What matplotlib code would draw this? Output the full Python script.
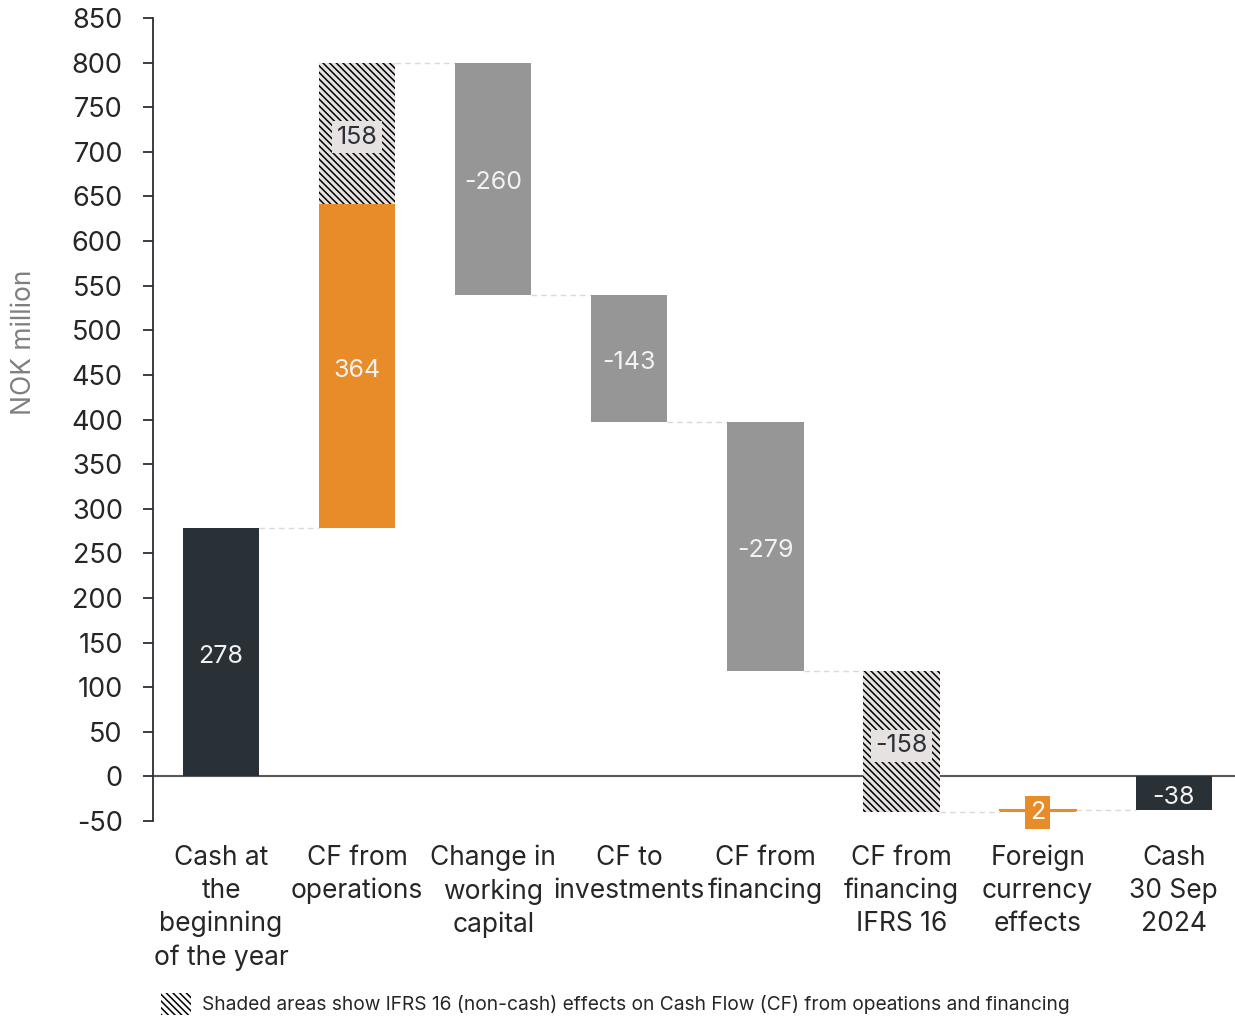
# Cash flow waterfall, NOK million

import matplotlib
matplotlib.use("Agg")
import matplotlib.pyplot as plt
import matplotlib.transforms as mtransforms
from matplotlib.patches import Rectangle

# Data
categories = ["Cash at\nthe\nbeginning\nof the year", "CF from\noperations",
              "Change in\nworking\ncapital", "CF to\ninvestments", "CF from\nfinancing",
              "CF from\nfinancing\nIFRS 16", "Foreign\ncurrency\neffects", "Cash\n30 Sep\n2024"]
cash_part = [278, 364, -260, -143, -279, 0, 2, -38]
ifrs16_part = [0, 158, 0, 0, 0, -158, 0, 0]
is_total = [True, False, False, False, False, False, False, True]
legend_text = "Shaded areas show IFRS 16 (non-cash) effects on Cash Flow (CF) from opeations and financing"

# Colours
dark = "#293036"
orange = "#E88B29"
grey = "#969696"
shade_bg = "#E7E2E2"

plt.rcParams['font.family'] = ['Inter', 'DejaVu Sans']
plt.rcParams['hatch.linewidth'] = 1.1
plt.rcParams['axes.unicode_minus'] = False

fig = plt.figure(figsize=(12.35, 10.16), dpi=100)
ax = fig.add_axes([153 / 1235, 1 - 821 / 1016, 1 - 153 / 1235, (821 - 18) / 1016])
# labels sit a little below the bar centre
lab_tr = mtransforms.offset_copy(ax.transData, fig=fig, y=-3, units="points")

width = 0.56
running = 0
prev_end = None
for i, (c, s) in enumerate(zip(cash_part, ifrs16_part)):
    if is_total[i]:
        bottom = 0
    else:
        bottom = running
    # connector from previous bar
    if prev_end is not None:
        ax.plot([i - 1 + width / 2, i - width / 2], [prev_end, prev_end],
                color="#D9D9D9", lw=1, ls=(0, (4, 3)), zorder=1)
    if c != 0:
        if is_total[i]:
            col = dark
        elif c > 0:
            col = orange
        else:
            col = grey
        ax.bar(i, c, width, bottom=bottom, color=col, zorder=2, linewidth=0)
        mid = bottom + c / 2
        if abs(c) < 10:
            # tiny step: a line plus a boxed label
            ax.plot([i - width / 2, i + width / 2], [bottom + c, bottom + c],
                    color=orange, lw=1.5, zorder=3)
            ax.text(i, bottom, str(c), ha="center", va="center", fontsize=18,
                    color="white", zorder=4,
                    bbox=dict(boxstyle="square,pad=0.2", fc=orange, ec="none"))
        else:
            ax.text(i, mid, str(c), ha="center", va="center", fontsize=18,
                    color="#F2F2F2", zorder=4, transform=lab_tr)
    top = bottom + c
    if s != 0:
        ax.bar(i, s, width, bottom=top, color=shade_bg, edgecolor="black",
               hatch="\\\\\\\\\\", linewidth=0, zorder=2)
        ax.text(i, top + s / 2, str(s), ha="center", va="center", fontsize=18,
                color="#2B2F36", zorder=4, transform=lab_tr,
                bbox=dict(boxstyle="square,pad=0.18", fc=shade_bg, ec="none"))
    running = top + s
    prev_end = running

ax.axhline(0, color="#595959", lw=1.5, zorder=1)

ax.set_xlim(-0.5, 7.45)
ax.set_ylim(-50, 850)
ax.set_yticks(range(-50, 851, 50))
ax.tick_params(axis="y", labelsize=19.5, colors="#262626", length=7.2, width=1.3,
               direction="out", pad=14.5, color="#2B2F36")
ax.set_xticks(range(len(categories)))
ax.set_xticklabels(categories, fontsize=19, color="#262626", linespacing=1.35)
ax.tick_params(axis="x", length=0, pad=17)
for sp in ["top", "right", "bottom"]:
    ax.spines[sp].set_visible(False)
ax.spines["left"].set_color("#2B2F36")
ax.spines["left"].set_linewidth(1.3)
ax.set_ylabel("NOK million", fontsize=19, color="#7F7F7F")
ax.yaxis.set_label_coords(-0.107, 0.596)

# legend for the shading
fig.patches.append(Rectangle((161 / 1235, 1 / 1016), 30 / 1235, 22 / 1016,
                             transform=fig.transFigure, facecolor="white",
                             edgecolor="black", hatch="\\\\\\\\\\", linewidth=0))
fig.text(202 / 1235, 1 - 1004 / 1016, legend_text, fontsize=13.8,
         color="#262626", va="center", ha="left")

fig.savefig("out.png", dpi=100)
